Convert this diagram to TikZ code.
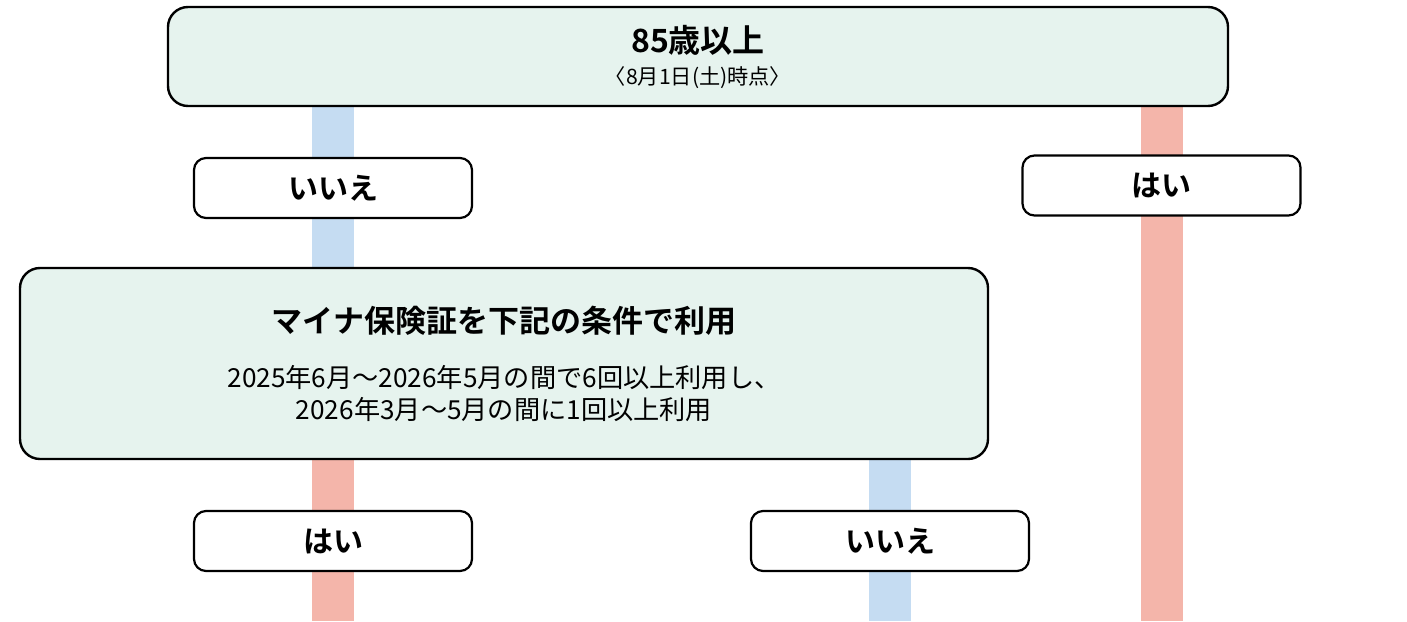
\documentclass[tikz,border=0pt]{standalone}
\usepackage{fontspec}
\setmainfont{Noto Sans CJK JP}[BoldFont={Noto Sans CJK JP Bold}]
\usetikzlibrary{positioning, backgrounds}
\definecolor{boxgreen}{HTML}{E6F3EE}
\definecolor{barblue}{HTML}{C5DCF2}
\definecolor{barred}{HTML}{F4B5AA}

\begin{document}
\begin{tikzpicture}[
    x=0.5pt, y=-0.5pt,
    bigbox/.style={draw=black, line width=1.2pt, rounded corners=10pt, fill=boxgreen, align=center},
    answer/.style={draw=black, line width=1.1pt, rounded corners=6pt, fill=white, minimum width=139pt, minimum height=30pt, font=\fontsize{15}{16}\selectfont\bfseries},
    nobar/.style={line width=21pt, draw=barblue},
    yesbar/.style={line width=21pt, draw=barred}
]
\useasboundingbox (0,0) rectangle (1407,621);
\coordinate (bottom) at (0,621);

\node[bigbox, minimum width=530pt, minimum height=49.5pt, font=\fontsize{10.6}{16}\selectfont] (top) at (698,56.5)
    {{\fontsize{16}{16}\selectfont\bfseries 85歳以上}\\〈8月1日(土)時点〉};
\node[answer] (no1) at (333,188) {いいえ};
\node[answer] (yes1) at (1161.5,185.5) {はい};
\node[bigbox, minimum width=484pt, minimum height=95.5pt, font=\fontsize{13.1}{16}\selectfont] (cond) at (504,363.5)
    {{\fontsize{15.5}{16}\selectfont\bfseries マイナ保険証を下記の条件で利用}\\[11.5pt]
     2025年6月〜2026年5月の間で6回以上利用し、\\2026年3月〜5月の間に1回以上利用};
\node[answer] (yes2) at (333,541) {はい};
\node[answer] (no2) at (890,541) {いいえ};

\begin{scope}[on background layer]
\draw[nobar] (top.south -| no1) -- (cond.north -| no1);
\draw[yesbar] (top.south -| yes1) -- (yes1 |- bottom);
\draw[yesbar] (cond.south -| yes2) -- (yes2 |- bottom);
\draw[nobar] (cond.south -| no2) -- (no2 |- bottom);
\end{scope}

\end{tikzpicture}
\end{document}
